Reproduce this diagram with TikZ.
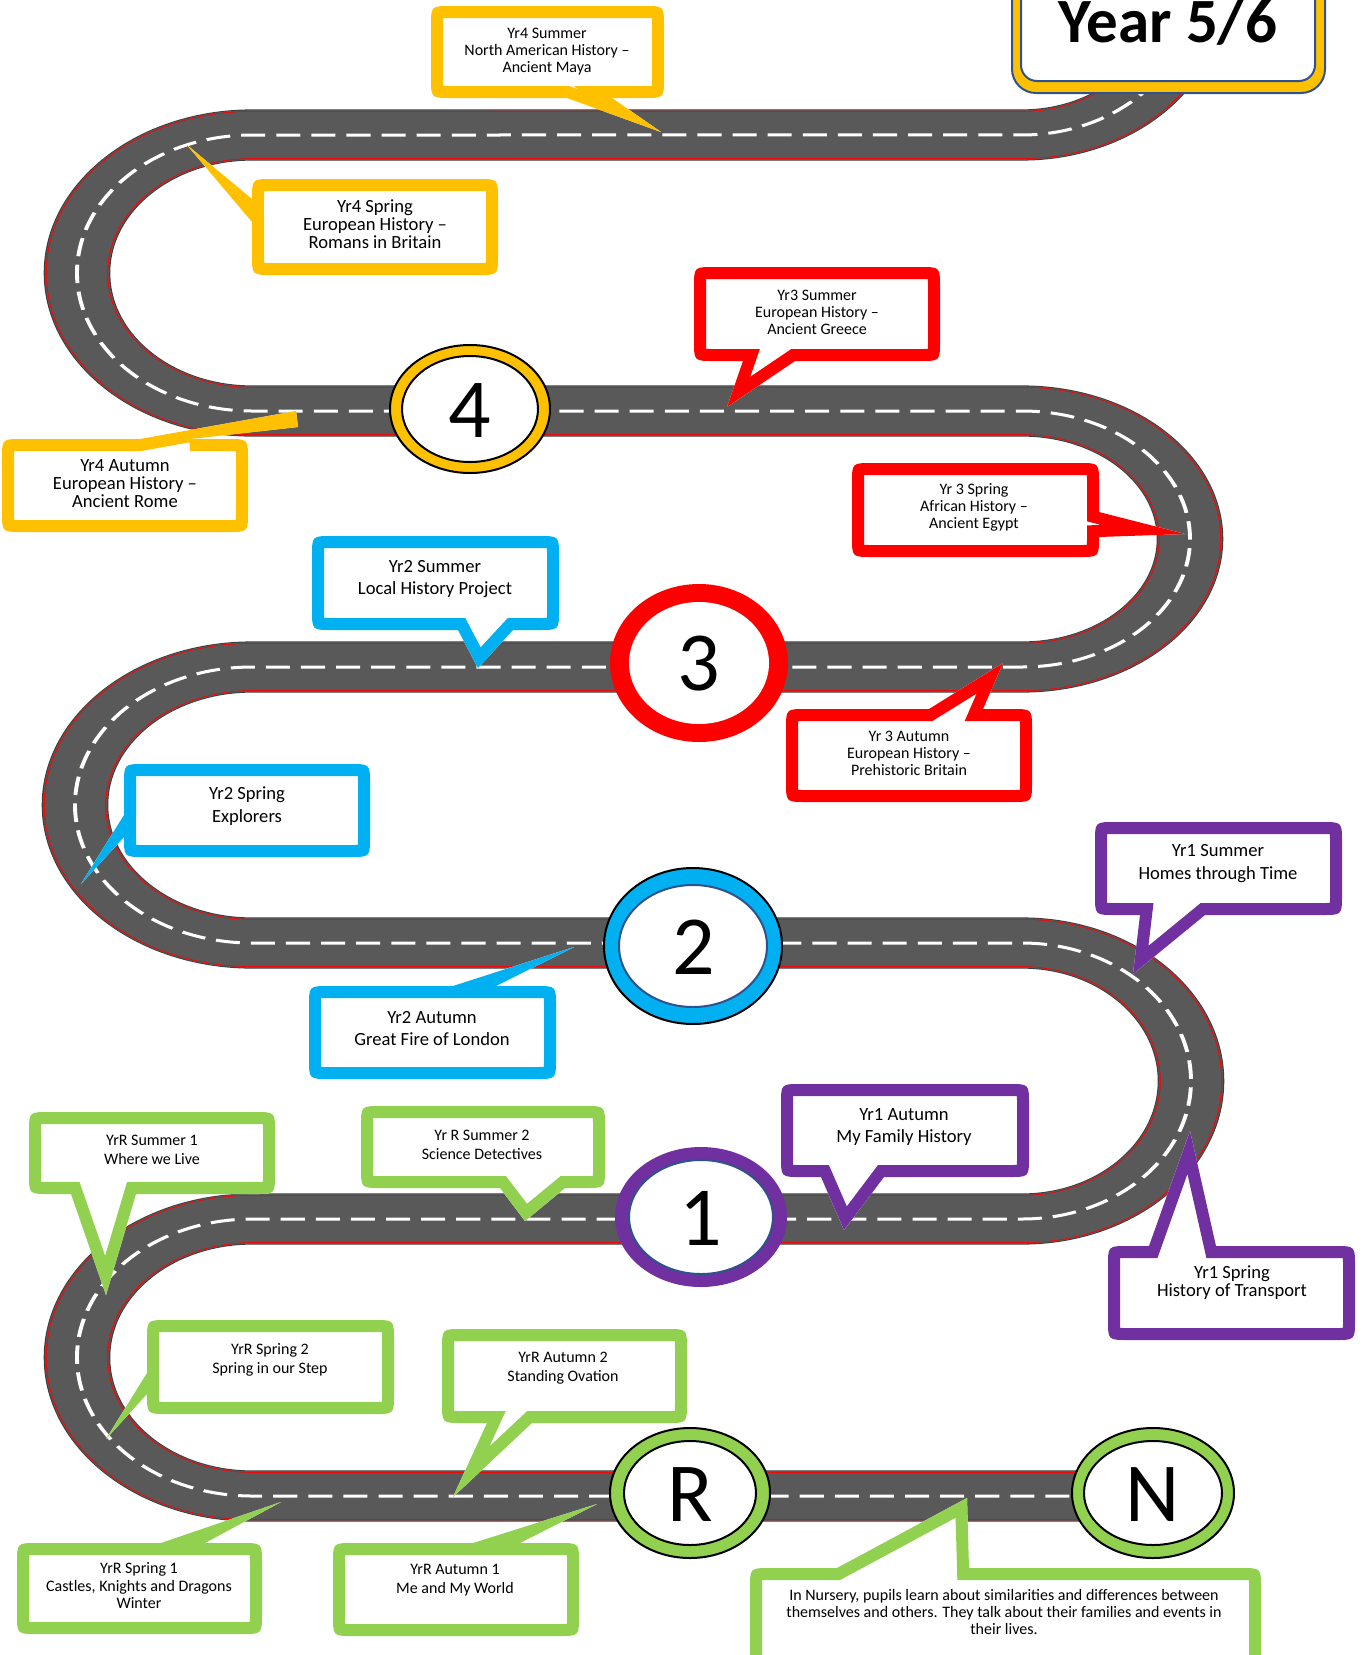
\documentclass[tikz,border=0pt]{standalone}
\usepackage{fontspec}
\newfontfamily\carl{Carlito}
\definecolor{cYel}{HTML}{FFC000}
\definecolor{cRed}{HTML}{FF0000}
\definecolor{cCya}{HTML}{00B0F0}
\definecolor{cPur}{HTML}{7030A0}
\definecolor{cGrn}{HTML}{92D050}
\definecolor{cRoad}{HTML}{595959}
\definecolor{cEdge}{HTML}{3A3A3A}
\definecolor{cBlu}{HTML}{2F528F}
% callout outlines: x1 y1 x2 y2 a b tip
\newcommand\pB[7]{(#1+20,#2) -- (#3-20,#2) .. controls (#3,#2) .. (#3,#2+20) -- (#3,#4-20) .. controls (#3,#4) .. (#3-20,#4) -- (#6,#4) -- #7 -- (#5,#4) -- (#1+20,#4) .. controls (#1,#4) .. (#1,#4-20) -- (#1,#2+20) .. controls (#1,#2) .. (#1+20,#2) -- cycle}
\newcommand\pT[7]{(#1+20,#2) -- (#5,#2) -- #7 -- (#6,#2) -- (#3-20,#2) .. controls (#3,#2) .. (#3,#2+20) -- (#3,#4-20) .. controls (#3,#4) .. (#3-20,#4) -- (#1+20,#4) .. controls (#1,#4) .. (#1,#4-20) -- (#1,#2+20) .. controls (#1,#2) .. (#1+20,#2) -- cycle}
\newcommand\pL[7]{(#1+20,#2) -- (#3-20,#2) .. controls (#3,#2) .. (#3,#2+20) -- (#3,#4-20) .. controls (#3,#4) .. (#3-20,#4) -- (#1+20,#4) .. controls (#1,#4) .. (#1,#4-20) -- (#1,#6) -- #7 -- (#1,#5) -- (#1,#2+20) .. controls (#1,#2) .. (#1+20,#2) -- cycle}
\newcommand\pR[7]{(#1+20,#2) -- (#3-20,#2) .. controls (#3,#2) .. (#3,#2+20) -- (#3,#5) -- #7 -- (#3,#6) -- (#3,#4-20) .. controls (#3,#4) .. (#3-20,#4) -- (#1+20,#4) .. controls (#1,#4) .. (#1,#4-20) -- (#1,#2+20) .. controls (#1,#2) .. (#1+20,#2) -- cycle}
\newcommand\callout[2]{\fill[white] #2; \begin{scope}\clip #2; \draw[#1,line width=12pt] #2;\end{scope}}
\newcommand\roadpath{(1184.3,32.7) arc[start angle=15, end angle=90, x radius=168, y radius=138]
 -- (252,135) arc[start angle=270, end angle=90, x radius=175, y radius=138]
 -- (1022,411) arc[start angle=-90, end angle=90, x radius=168, y radius=128]
 -- (252,667) arc[start angle=270, end angle=90, x radius=177, y radius=138]
 -- (1022,943) arc[start angle=-90, end angle=90, x radius=169, y radius=138]
 -- (252,1219) arc[start angle=270, end angle=90, x radius=175, y radius=138.5]
 -- (1153,1496)}
\tikzset{
 lab/.style 2 args={font=\carl\fontsize{#1}{#2}\selectfont, align=center, inner sep=0pt},
 dig/.style={font=\carl\fontsize{42}{42}\selectfont, inner sep=0pt},
}
\begin{document}
\begin{tikzpicture}[x=0.5pt,y=-0.5pt]
\path[use as bounding box, fill=white] (0,0) rectangle (1363,1655);
% road
\begin{scope}[x=0.384615pt, transform canvas={xscale=1.3}]
\draw[cEdge, line width=25.6pt] \roadpath;
\draw[cRoad, line width=24.8pt] \roadpath;
\draw[cRed, line width=24pt] \roadpath;
\draw[cRoad, line width=23.2pt] \roadpath;
\draw[white, line width=1.5pt, dash pattern=on 9.25pt off 4.25pt] \roadpath;
\end{scope}
% callouts
\callout{cYel}{\pB{431}{6}{664}{98}{567}{612}{(661,132)}}
\node[lab={8}{8.5}] (t1) at (547,51.5) {Yr4 Summer\\North American History –\\Ancient Maya};
\callout{cYel}{\pL{252}{179}{498}{275}{199}{222}{(187,145)}}
\node[lab={9.3}{9}] (t2) at (375,224) {Yr4 Spring\\European History –\\Romans in Britain};
\callout{cYel}{\pT{2}{439}{248}{532}{140}{190}{(296,411) -- (298,427)}}
\node[lab={9.3}{9}] (t3) at (125,484) {Yr4 Autumn\\European History –\\Ancient Rome};
\callout{cRed}{\pB{694}{267}{940}{361}{743}{795}{(727,407)}}
\node[lab={8}{8.5}] (t4) at (817,312) {Yr3 Summer\\European History –\\Ancient Greece};
\callout{cRed}{\pR{852}{463}{1099}{557}{512}{537}{(1185,534)}}
\node[lab={8}{8.5}] (t5) at (974,507.5) {Yr 3 Spring\\African History –\\Ancient Egypt};
\callout{cRed}{\pT{786}{709}{1032}{802}{929}{983}{(1003,663)}}
\node[lab={8}{8.5}] (t6) at (909,753) {Yr 3 Autumn\\European History –\\Prehistoric Britain};
\callout{cCya}{\pB{312}{536}{559}{630}{458}{513}{(478,668)}}
\node[lab={9.3}{11.3}] (t7) at (435,579) {Yr2 Summer\\Local History Project};
\callout{cCya}{\pL{124}{764}{370}{857}{815}{837}{(81,884)}}
\node[lab={9.3}{11.3}] (t8) at (247,806) {Yr2 Spring\\Explorers};
\callout{cCya}{\pT{309}{986}{556}{1079}{453}{496}{(574,947)}}
\node[lab={9.3}{11.3}] (t9) at (432,1028.5) {Yr2 Autumn\\Great Fire of London};
\callout{cPur}{\pB{1095}{822}{1342}{915}{1140}{1205}{(1133,974)}}
\node[lab={9.3}{11.3}] (t10) at (1218,863.5) {Yr1 Summer\\Homes through Time};
\callout{cPur}{\pB{781}{1084}{1029}{1177}{821}{884}{(844,1230)}}
\node[lab={9.3}{11}] (t11) at (904,1127) {Yr1 Autumn\\My Family History};
\callout{cPur}{\pT{1108}{1246}{1355}{1340}{1149}{1216}{(1190,1131)}}
\node[lab={9.3}{9}] (t12) at (1232,1283) {Yr1 Spring\\History of Transport};
\callout{cGrn}{\pB{29}{1112}{275}{1194}{71}{136}{(106,1295)}}
\node[lab={8}{9.75}] (t13) at (152,1150) {YrR Summer 1\\Where we Live};
\callout{cGrn}{\pB{361}{1106}{605}{1188}{500}{565}{(525,1221)}}
\node[lab={8}{9.75}] (t14) at (482,1145) {Yr R Summer 2\\Science Detectives};
\callout{cGrn}{\pL{147}{1320}{394}{1414}{1373}{1394}{(106,1439)}}
\node[lab={8}{9.75}] (t15) at (270,1360) {YrR Spring 2\\Spring in our Step};
\callout{cGrn}{\pB{442}{1329}{687}{1423}{487}{532}{(453,1497)}}
\node[lab={8}{9.75}] (t16) at (563,1368) {YrR Autumn 2\\Standing Ovation};
\callout{cGrn}{\pT{17}{1543}{262}{1634}{161}{205}{(281,1502)}}
\node[lab={8}{8.75}] (t17) at (139,1586) {YrR Spring 1\\Castles, Knights and Dragons\\Winter};
\callout{cGrn}{\pT{333}{1543}{579}{1636}{473}{520}{(597,1504)}}
\node[lab={8}{9.5}] (t18) at (455,1580.5) {YrR Autumn 1\\Me and My World};
\callout{cGrn}{\pT{750}{1568}{1261}{1680}{837}{969}{(967,1498)}}
\node[lab={8}{8.5}] (t19) at (1004,1612) {In Nursery, pupils learn about similarities and differences between\\themselves and others. They talk about their families and events in\\their lives.};
% year circles
\draw[black, line width=1pt, fill=cYel] (470,409) ellipse [x radius=80, y radius=64];
\draw[black, line width=1pt, fill=white] (470,409) ellipse [x radius=68, y radius=53];
\node[dig] (c4) at (470,411) {4};
\fill[cRed] (699,663) ellipse [x radius=89, y radius=79];
\fill[white] (699,663) ellipse [x radius=70, y radius=61];
\node[dig] (c3) at (699,664) {3};
\draw[black, line width=1pt, fill=cCya] (693,946) ellipse [x radius=89, y radius=78];
\draw[cBlu, line width=1pt, fill=white] (693,946) ellipse [x radius=74, y radius=61];
\node[dig] (c2) at (694,947) {2};
\fill[cPur] (701,1217) ellipse [x radius=86, y radius=70];
\draw[cBlu, line width=1pt, fill=white] (701,1217) ellipse [x radius=72, y radius=57];
\node[dig] (c1) at (701,1218) {1};
\draw[black, line width=1pt, fill=cGrn] (690,1493) ellipse [x radius=80, y radius=65];
\draw[black, line width=1pt, fill=white] (690,1493) ellipse [x radius=66, y radius=52];
\node[dig] (cR) at (690,1495) {R};
\draw[black, line width=1pt, fill=cGrn] (1153,1493) ellipse [x radius=81, y radius=65];
\draw[black, line width=1pt, fill=white] (1153,1493) ellipse [x radius=69, y radius=52];
\node[dig] (cN) at (1153,1495) {N};
% Year 5/6 box
\draw[cBlu, line width=1pt, fill=cYel, rounded corners=12pt] (1012,-40) rectangle (1325,93);
\draw[cBlu, line width=1pt, fill=white, rounded corners=8pt] (1021,-40) rectangle (1315,81);
\node[font=\carl\bfseries\fontsize{31.5}{31.5}\selectfont, anchor=base, inner sep=0pt] (y56) at (1168,42) {Year 5/6};
\end{tikzpicture}
\end{document}
